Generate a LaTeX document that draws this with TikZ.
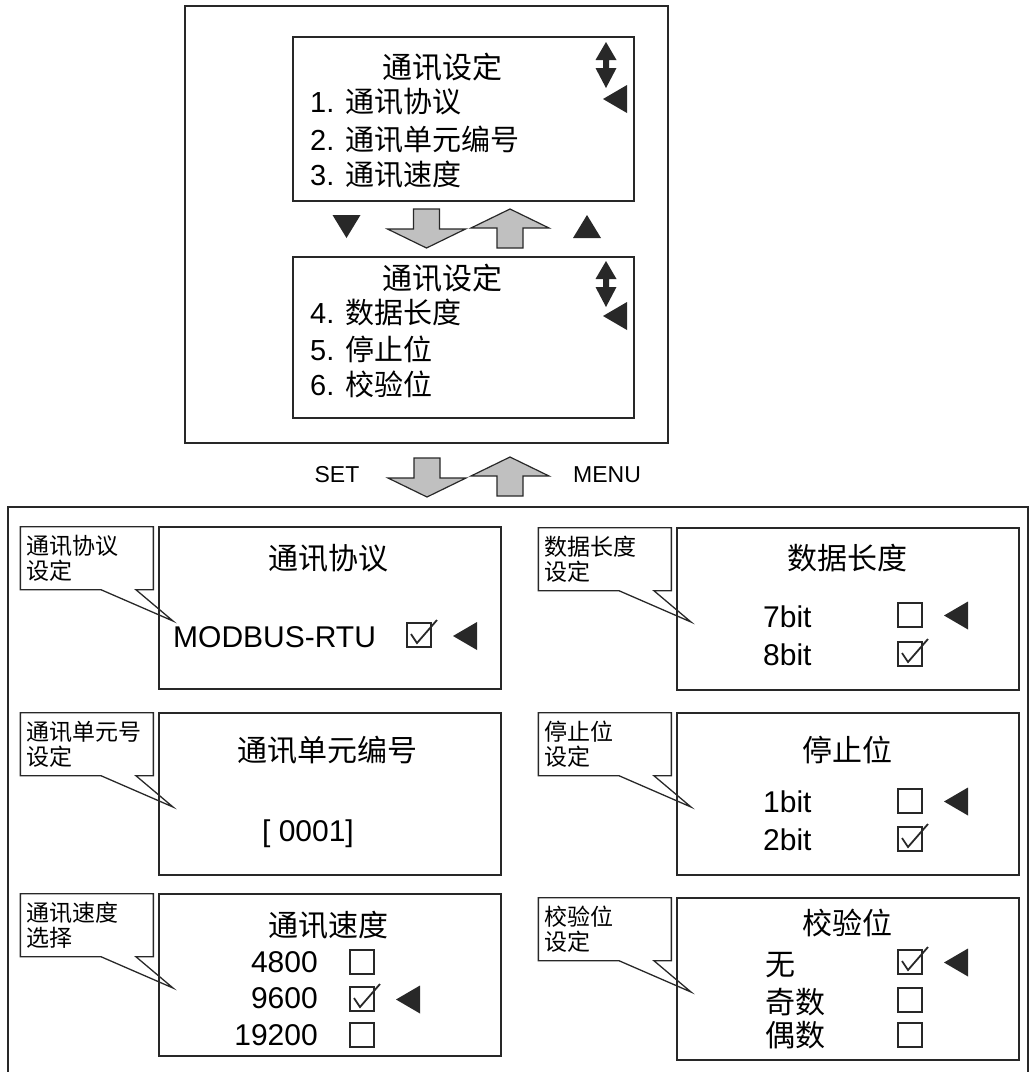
\documentclass[tikz,border=0pt]{standalone}
\usepackage{fontspec}
\setmainfont{Liberation Sans}
\newfontfamily\cjk{Noto Sans CJK SC}
\usetikzlibrary{positioning,shapes.callouts,calc}
\definecolor{PanelInk}{RGB}{40,40,40}
\definecolor{KeyGray}{RGB}{192,192,192}
\newcommand{\zh}[1]{{\cjk #1}}

\begin{document}
\begin{tikzpicture}[
  x=1pt, y=-1pt,
  frame/.style={draw=PanelInk, line width=1.6pt},
  screen/.style={draw=PanelInk, line width=2pt, anchor=north west,
    minimum width=342pt, minimum height=162pt, inner sep=0pt},
  note/.style={rectangle callout, draw=PanelInk, line width=1.3pt,
    minimum width=133pt, minimum height=63pt, text width=121pt, inner sep=6pt,
    align=left, callout pointer width=35pt, font=\cjk\fontsize{23}{25}\selectfont},
  heading/.style={font=\cjk\fontsize{30}{36}\selectfont, inner sep=0pt},
  item/.style={font=\fontsize{29}{34}\selectfont, inner sep=0pt, anchor=base west},
  value/.style={font=\fontsize{30}{36}\selectfont, inner sep=0pt},
  keytext/.style={font=\fontsize{23}{28}\selectfont, inner sep=0pt},
  keyline/.style={draw=PanelInk, fill=KeyGray, line width=1.2pt},
  boxline/.style={draw=PanelInk, line width=1.5pt},
  pics/downkey/.style={code={\draw[keyline] (-13,0) -- (13,0) -- (13,20) -- (39,20)
    -- (0,39) -- (-39,20) -- (-13,20) -- cycle;}},
  pics/upkey/.style={code={\draw[keyline] (0,0) -- (39,19) -- (13,19) -- (13,39)
    -- (-13,39) -- (-13,19) -- (-39,19) -- cycle;}},
  pics/downmark/.style={code={\fill[PanelInk] (-14,0) -- (14,0) -- (0,23) -- cycle;}},
  pics/upmark/.style={code={\fill[PanelInk] (-14,23) -- (14,23) -- (0,0) -- cycle;}},
  pics/cursor/.style={code={\fill[PanelInk] (0,0) -- (24,-14) -- (24,14) -- cycle;}},
  pics/scrollmark/.style={code={\fill[PanelInk] (0,0) -- (10.5,18) -- (3,18) -- (3,26)
    -- (10.5,26) -- (0,46) -- (-10.5,26) -- (-3,26) -- (-3,18) -- (-10.5,18) -- cycle;}},
  pics/optbox/.style={code={\draw[boxline] (0,0) rectangle (24,24);}},
  pics/optboxon/.style={code={\draw[boxline] (0,0) rectangle (24,24);
    \draw[boxline, line width=1.8pt] (4,11) -- (10,20) -- (30,-3);}}
]
\useasboundingbox (0,0) rectangle (1032,1072);

% menu screens
\draw[frame] (185,6) rectangle (668,443);
\node[screen, minimum width=341pt, minimum height=164pt] (m1) at (292,36) {};
\node[screen, minimum width=341pt, minimum height=161pt] (m2) at (292,256) {};

\node[heading] (m1t) at (442,67) {通讯设定};
\node[item] (m1a) at (310,112) {1. \zh{通讯协议}};
\node[item] (m1b) at (310,150) {2. \zh{通讯单元编号}};
\node[item] (m1c) at (310,185) {3. \zh{通讯速度}};
\pic at (606,42) {scrollmark};
\pic at (603,99) {cursor};

\node[heading] (m2t) at (442,278) {通讯设定};
\node[item] (m2a) at (310,323) {4. \zh{数据长度}};
\node[item] (m2b) at (310,360) {5. \zh{停止位}};
\node[item] (m2c) at (310,395) {6. \zh{校验位}};
\pic at (606,261) {scrollmark};
\pic at (603,316) {cursor};

\pic at (346.5,215) {downmark};
\pic at (426.5,209) {downkey};
\pic at (510,209) {upkey};
\pic at (587,215) {upmark};

% SET / MENU keys
\node[keytext] (set) at (337,475) {SET};
\pic at (427,458) {downkey};
\pic at (510,457) {upkey};
\node[keytext] (menu) at (607,475) {MENU};

% setting screens
\draw[frame] (8,1090) |- (1028,507) -- (1028,1090);

\node[screen] (pa) at (158,526) {};
\node[screen] (pb) at (676,527) {};
\node[screen] (pc) at (158,712) {};
\node[screen] (pd) at (676,712) {};
\node[screen] (pe) at (158,893) {};
\node[screen] (pf) at (676,897) {};

\foreach \s/\n/\txt in {pa/na/通讯协议\\设定, pb/nb/数据长度\\设定, pc/nc/通讯单元号\\设定,
    pd/nd/停止位\\设定, pe/ne/通讯速度\\选择, pf/nf/校验位\\设定}
  \node[note, below left=0pt and 4pt of \s.north west,
    callout absolute pointer={($(\s.north west)+(15,95)$)}] (\n) {\txt};

% protocol
\node[heading] (pa-t) at (328,558) {通讯协议};
\node[value, anchor=base west] (pa-v) at (173,647) {MODBUS-RTU};
\pic at (407,623) {optboxon};
\pic at (453,636) {cursor};

% data length
\node[heading] (pb-t) at (847,558) {数据长度};
\node[value, anchor=base west] (pb-a) at (763,627) {7bit};
\node[value, anchor=base west] (pb-b) at (763,665) {8bit};
\pic at (898,603) {optbox};
\pic at (898,642) {optboxon};
\pic at (944,615.5) {cursor};

% unit number
\node[heading] (pc-t) at (327,750) {通讯单元编号};
\node[value, anchor=base] (pc-v) at (308,841) {[ 0001]};

% stop bit
\node[heading] (pd-t) at (847,750) {停止位};
\node[value, anchor=base west] (pd-a) at (763,812) {1bit};
\node[value, anchor=base west] (pd-b) at (763,850) {2bit};
\pic at (898,789) {optbox};
\pic at (898,827) {optboxon};
\pic at (944,801.5) {cursor};

% baud rate
\node[heading] (pe-t) at (328,925) {通讯速度};
\node[value, anchor=base east] (pe-a) at (318,972) {4800};
\node[value, anchor=base east] (pe-b) at (318,1008) {9600};
\node[value, anchor=base east] (pe-c) at (318,1045) {19200};
\pic at (350,950) {optbox};
\pic at (350,987) {optboxon};
\pic at (350,1023) {optbox};
\pic at (396,999.5) {cursor};

% parity
\node[heading] (pf-t) at (847,923) {校验位};
\node[heading, anchor=west] (pf-a) at (765,965) {无};
\node[heading, anchor=west] (pf-b) at (765,1002) {奇数};
\node[heading, anchor=west] (pf-c) at (765,1035) {偶数};
\pic at (898,950) {optboxon};
\pic at (898,988) {optbox};
\pic at (898,1023) {optbox};
\pic at (944,962.5) {cursor};
\end{tikzpicture}
\end{document}
